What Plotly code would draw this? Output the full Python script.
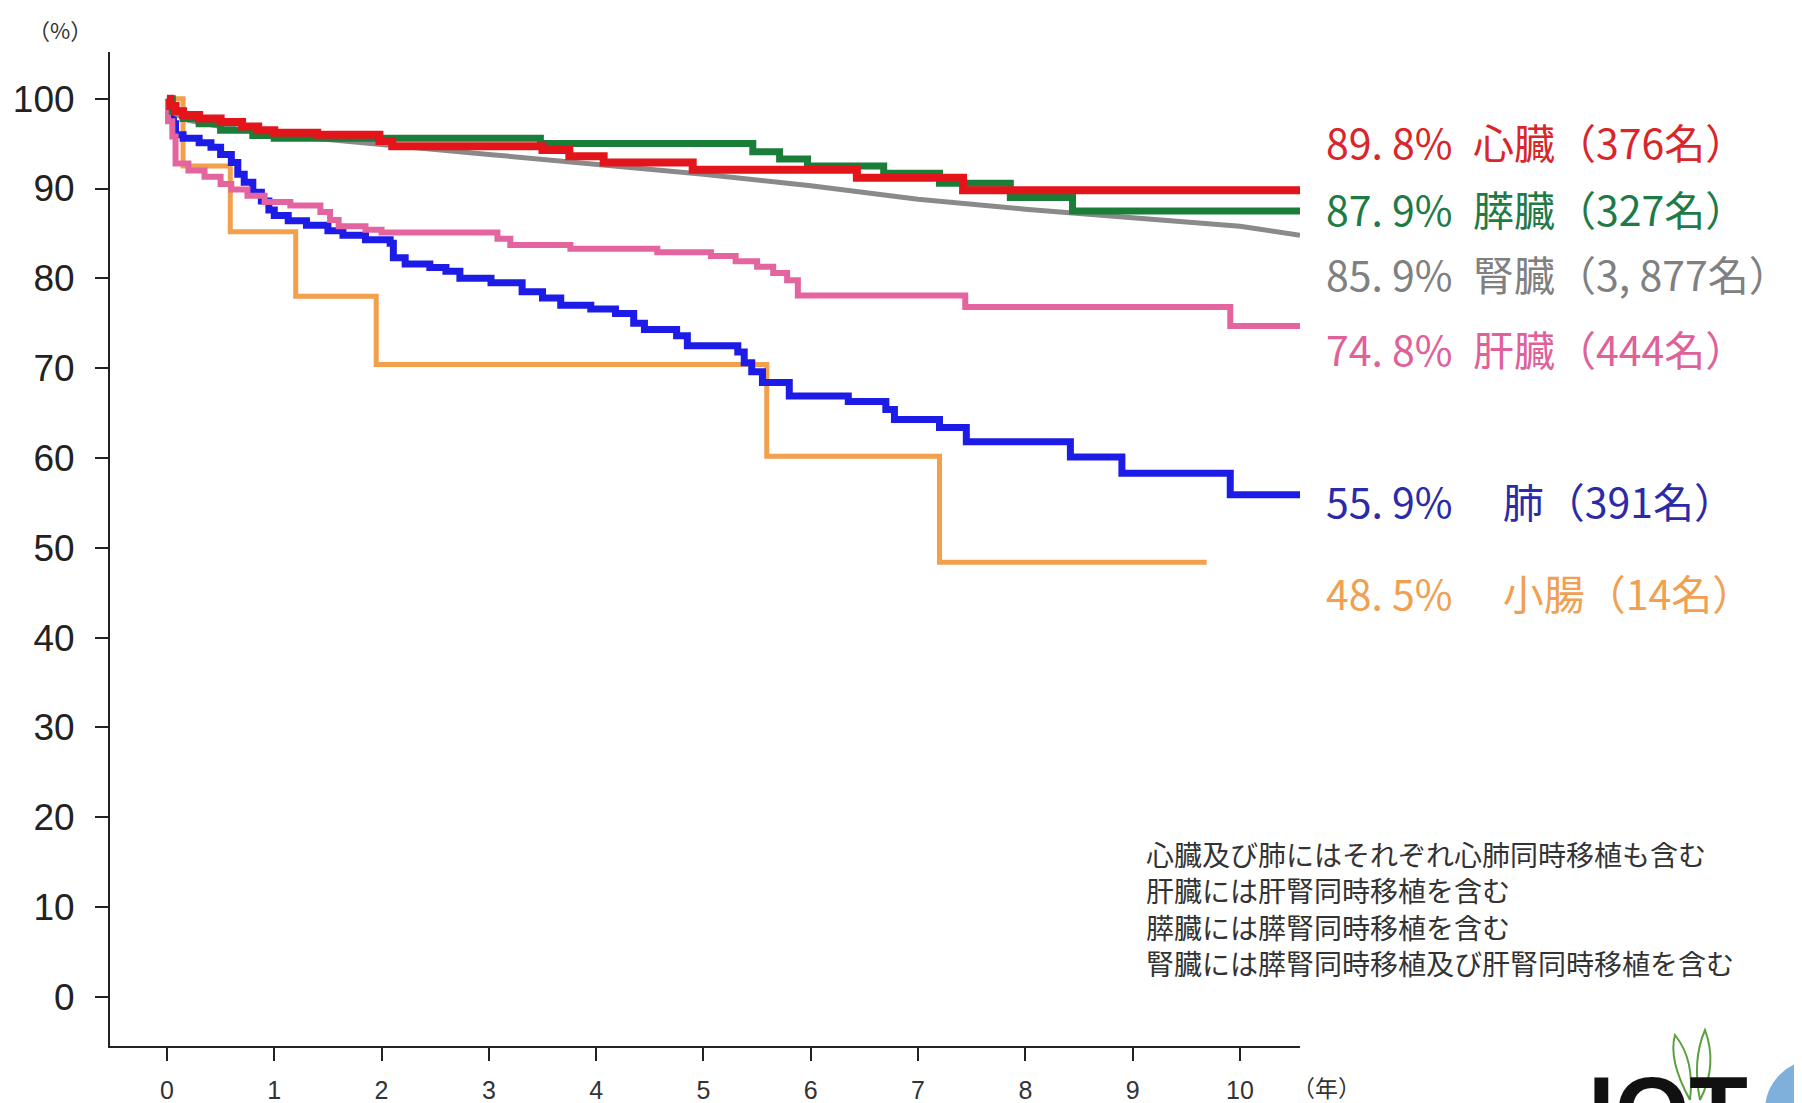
import plotly.graph_objects as go

# ---------------- data ----------------
heart_t = [0, 0.03, 0.08, 0.15, 0.3, 0.5, 0.7, 0.85, 1.0, 1.4, 1.98, 2.1, 3.5, 3.75, 4.07, 4.9, 6.43, 7.42, 10.56]
heart_v = [100, 99.2, 98.6, 98.2, 97.8, 97.4, 96.9, 96.5, 96.2, 96.0, 95.3, 94.7, 94.3, 93.6, 92.9, 92.1, 91.2, 89.8, 89.8]

pancreas_t = [0, 0.05, 0.15, 0.3, 0.5, 0.8, 1.0, 3.48, 5.46, 5.71, 5.97, 6.68, 7.2, 7.86, 8.44, 10.56]
pancreas_v = [100, 98.6, 97.8, 97.2, 96.5, 95.9, 95.6, 95.0, 94.1, 93.3, 92.5, 91.7, 90.6, 89.0, 87.5, 87.5]

kidney_t = [0, 0.05, 0.2, 0.5, 1.0, 1.5, 2.0, 3.0, 4.0, 5.0, 6.0, 7.0, 8.0, 9.0, 10.0, 10.56]
kidney_v = [100, 98.5, 97.6, 96.9, 96.0, 95.5, 94.9, 93.8, 92.7, 91.6, 90.3, 88.8, 87.7, 86.7, 85.8, 84.8]

liver_t = [0, 0.01, 0.05, 0.08, 0.2, 0.35, 0.5, 0.6, 0.75, 0.91, 1.15, 1.43, 1.52, 1.6, 1.85, 2.0,
           3.08, 3.2, 3.76, 4.57, 5.07, 5.3, 5.5, 5.65, 5.78, 5.88, 7.44, 9.91, 10.56]
liver_v = [100, 97.5, 95.8, 92.8, 92.0, 91.3, 90.5, 89.9, 89.2, 88.5, 88.1, 87.4, 86.5, 85.8, 85.4, 85.1,
           84.4, 83.7, 83.3, 82.9, 82.5, 81.9, 81.3, 80.6, 79.8, 78.1, 76.8, 74.7, 74.7]

lung_t = [0, 0.03, 0.06, 0.08, 0.15, 0.3, 0.41, 0.5, 0.6, 0.66, 0.72, 0.8, 0.88, 0.95, 1.0, 1.13, 1.3, 1.5,
          1.64, 1.85, 2.08, 2.11, 2.22, 2.45, 2.6, 2.73, 3.02, 3.31, 3.5, 3.67, 3.95, 4.18, 4.35, 4.45,
          4.75, 4.85, 5.32, 5.38, 5.45, 5.55, 5.8, 6.35, 6.7, 6.78, 7.2, 7.45, 8.42, 8.9, 9.91, 10.56]
lung_v = [100, 98.5, 97.2, 96.0, 95.6, 95.1, 94.6, 93.8, 92.9, 91.6, 90.7, 89.6, 88.6, 87.6, 87.0, 86.4, 85.9, 85.3,
          84.8, 84.3, 83.9, 82.3, 81.6, 81.2, 80.8, 80.0, 79.5, 78.5, 77.8, 77.0, 76.6, 76.1, 75.0, 74.3,
          73.6, 72.5, 71.8, 70.6, 69.6, 68.4, 66.9, 66.3, 65.4, 64.3, 63.4, 61.8, 60.1, 58.3, 55.9, 55.9]

intestine_t = [0, 0.15, 0.59, 1.2, 1.95, 5.59, 7.2, 9.69]
intestine_v = [100, 92.5, 85.2, 78.0, 70.4, 60.2, 48.4, 48.4]

x_ticks = [0, 1, 2, 3, 4, 5, 6, 7, 8, 9, 10]
y_ticks = [0, 10, 20, 30, 40, 50, 60, 70, 80, 90, 100]

label_texts = [
    "89. 8%\u2002心臓（376名）",
    "87. 9%\u2002膵臓（327名）",
    "85. 9%\u2002腎臓（3, 877名）",
    "74. 8%\u2002肝臓（444名）",
    "55. 9%\u3000 肺（391名）",
    "48. 5%\u3000 小腸（14名）",
]
notes = [
    "心臓及び肺にはそれぞれ心肺同時移植も含む",
    "肝臓には肝腎同時移植を含む",
    "膵臓には膵腎同時移植を含む",
    "腎臓には膵腎同時移植及び肝腎同時移植を含む",
]

# ---------------- styling / layout ----------------
OFF = 8                      # page body margin of the browser
W, H = 1802 - OFF, 1103 - OFF
L, R, T, B = 102, 502, 44, 57
plot_w, plot_h = W - L - R, H - T - B


def px_x(x):                 # x in reference-image pixels -> paper
    return (x - OFF - L) / plot_w


def px_y(y):                 # y in reference-image pixels -> paper
    return (H - B - (y - OFF)) / plot_h


label_colors = ["#d8262b", "#1e7a46", "#808080", "#e0609a", "#2b2ba8", "#f0a050"]
label_y_px = [141, 208, 273, 348, 500, 592]

fig = go.Figure()

series = [
    (intestine_t, intestine_v, "#f2a04b", 5, "hv", "小腸"),
    (lung_t, lung_v, "#1c1ce6", 7, "hv", "肺"),
    (liver_t, liver_v, "#e464a0", 6, "hv", "肝臓"),
    (kidney_t, kidney_v, "#8a8a8a", 5, "linear", "腎臓"),
    (pancreas_t, pancreas_v, "#1b7d3a", 7, "hv", "膵臓"),
    (heart_t, heart_v, "#e3151a", 8, "hv", "心臓"),
]
for t, v, c, w, shape, name in series:
    fig.add_trace(go.Scatter(x=t, y=v, mode="lines", name=name,
                             line=dict(color=c, width=w, shape=shape),
                             showlegend=False))

annotations = []
for txt, col, ypx in zip(label_texts, label_colors, label_y_px):
    annotations.append(dict(text=txt, x=px_x(1324), y=px_y(ypx), xref="paper", yref="paper",
                            xanchor="left", yanchor="middle", showarrow=False,
                            font=dict(family="Noto Sans CJK JP", size=41, color=col)))
annotations.append(dict(text="<br>".join(notes), x=px_x(1144), y=px_y(908), xref="paper", yref="paper",
                        xanchor="left", yanchor="middle", align="left", showarrow=False,
                        font=dict(family="Noto Sans CJK JP", size=28, color="#333333")))
annotations.append(dict(text="（%）", x=px_x(60), y=px_y(29), xref="paper", yref="paper",
                        xanchor="center", yanchor="middle", showarrow=False,
                        font=dict(family="Noto Sans CJK JP", size=22, color="#333333")))
annotations.append(dict(text="（年）", x=px_x(1326), y=px_y(1087), xref="paper", yref="paper",
                        xanchor="center", yanchor="middle", showarrow=False,
                        font=dict(family="Noto Sans CJK JP", size=23, color="#333333")))
annotations.append(dict(text="<b>IOT</b>", x=px_x(1586), y=px_y(1055), xref="paper", yref="paper",
                        xanchor="left", yanchor="top", showarrow=False,
                        font=dict(family="Liberation Sans", size=96, color="#111111")))

shapes = [
    dict(type="circle", xref="paper", yref="paper",
         x0=px_x(1765), x1=px_x(1865), y0=px_y(1160), y1=px_y(1060),
         fillcolor="#7fb0dc", line=dict(width=0), layer="above"),
    dict(type="path", xref="paper", yref="paper",
         path=f"M {px_x(1690)},{px_y(1100)} Q {px_x(1668)},{px_y(1060)} {px_x(1675)},{px_y(1035)} "
              f"Q {px_x(1695)},{px_y(1060)} {px_x(1690)},{px_y(1100)}",
         line=dict(color="#5aa040", width=2)),
    dict(type="path", xref="paper", yref="paper",
         path=f"M {px_x(1700)},{px_y(1100)} Q {px_x(1692)},{px_y(1060)} {px_x(1705)},{px_y(1030)} "
              f"Q {px_x(1718)},{px_y(1065)} {px_x(1700)},{px_y(1100)}",
         line=dict(color="#5aa040", width=2)),
]

fig.update_layout(
    width=W, height=H, autosize=False,
    margin=dict(l=L, r=R, t=T, b=B, pad=0, autoexpand=False),
    paper_bgcolor="white", plot_bgcolor="white",
    annotations=annotations, shapes=shapes,
    xaxis=dict(range=[-0.531, 10.56], tickvals=x_ticks, ticktext=[str(v) for v in x_ticks],
               showgrid=False, zeroline=False, showline=True, linecolor="#222222", linewidth=2,
               ticks="outside", ticklen=13, tickwidth=2, tickcolor="#222222", automargin=False,
               tickfont=dict(family="Liberation Sans", size=25, color="#333333"),
               ticklabelstandoff=8),
    yaxis=dict(range=[-5.46, 105.2], tickvals=y_ticks, ticktext=[str(v) for v in y_ticks],
               showgrid=False, zeroline=False, showline=True, linecolor="#222222", linewidth=2,
               ticks="outside", ticklen=13, tickwidth=2, tickcolor="#222222", automargin=False,
               tickfont=dict(family="Liberation Sans", size=37, color="#222222"),
               ticklabelstandoff=13),
)

fig.write_html("out.html")
